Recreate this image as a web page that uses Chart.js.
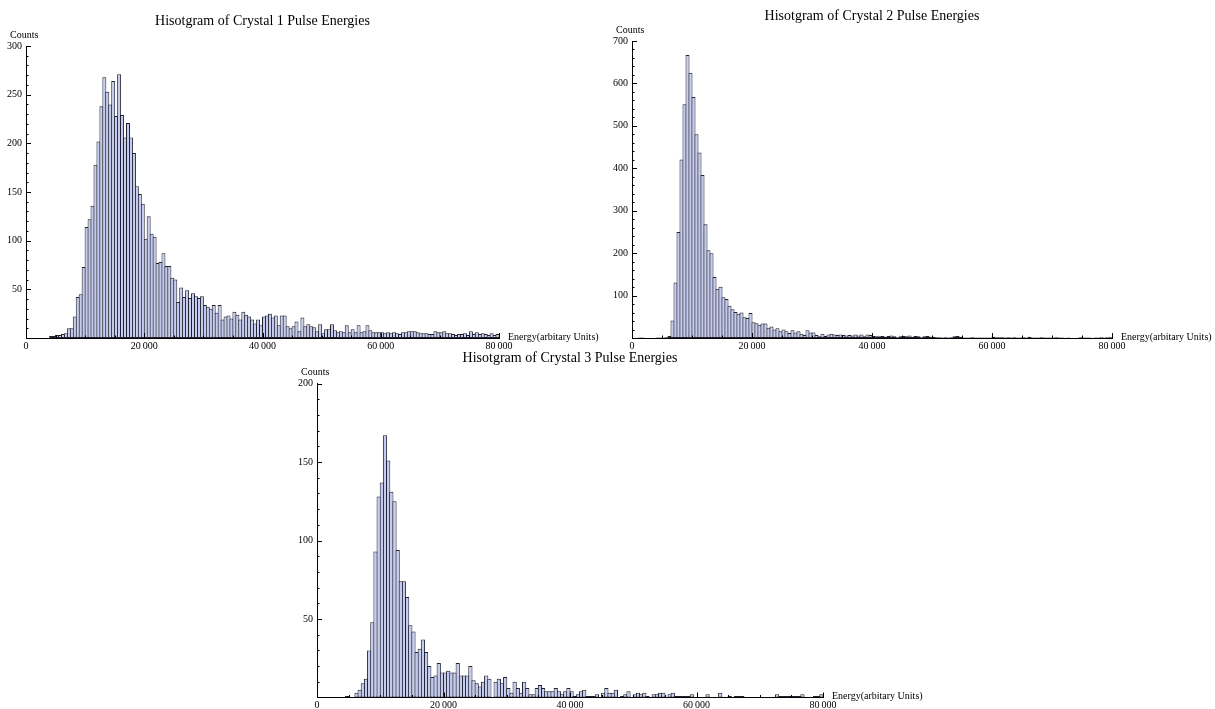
<!DOCTYPE html>
<html>
<head>
<meta charset="utf-8">
<title>Crystal pulse energy histograms</title>
<script src="https://cdn.jsdelivr.net/npm/chart.js@4.4.1/dist/chart.umd.min.js"></script>
<style>
  html, body { margin: 0; padding: 0; background: #fff; }
  body { width: 1215px; height: 709px; position: relative; overflow: hidden; }
  canvas { position: absolute; }
</style>
</head>
<body>
<canvas id="crystal1" width="620" height="360" style="left:0px;top:0px"></canvas>
<canvas id="crystal2" width="610" height="360" style="left:605px;top:0px"></canvas>
<canvas id="crystal3" width="680" height="360" style="left:280px;top:350px"></canvas>
<script>
// histogram bins: 500 energy units wide, 0 .. 80000
const binWidth = 500;
const energyMax = 80000;
const energyStep = 20000;

const crystal1Counts = [
  0, 0, 0, 0, 0, 0, 0, 0, 2, 2, 3, 3, 4, 5, 10, 10, 22, 42, 45, 73,
  114, 122, 136, 178, 202, 238, 268, 253, 240, 264, 228, 271, 229, 206, 221, 206, 190, 156, 148, 138,
  102, 125, 107, 104, 77, 78, 87, 74, 74, 62, 60, 37, 52, 42, 49, 41, 46, 43, 41, 43,
  34, 32, 30, 34, 26, 34, 19, 22, 23, 20, 27, 24, 19, 27, 24, 22, 19, 15, 19, 13,
  22, 23, 25, 21, 23, 13, 23, 23, 12, 10, 12, 17, 7, 21, 12, 14, 12, 11, 7, 14,
  5, 9, 9, 14, 8, 6, 7, 6, 13, 6, 9, 6, 13, 6, 7, 13, 8, 6, 6, 6,
  6, 5, 6, 5, 6, 5, 4, 6, 6, 7, 7, 7, 6, 5, 5, 5, 4, 4, 7, 6,
  6, 7, 5, 5, 4, 3, 4, 4, 5, 3, 7, 4, 6, 4, 5, 4, 3, 5, 3, 4
];

const crystal2Counts = [
  0, 0, 1, 1, 0, 0, 0, 0, 1, 1, 1, 2, 5, 41, 131, 250, 421, 551, 667, 625,
  568, 480, 437, 384, 268, 207, 200, 144, 116, 121, 96, 92, 76, 68, 61, 57, 60, 49, 47, 59,
  37, 35, 31, 34, 34, 24, 27, 20, 23, 16, 20, 16, 12, 18, 13, 16, 10, 7, 18, 13,
  13, 7, 4, 10, 5, 8, 10, 8, 7, 8, 7, 6, 7, 6, 8, 6, 8, 4, 8, 7,
  5, 4, 4, 5, 3, 5, 6, 4, 2, 4, 5, 4, 6, 3, 5, 4, 2, 4, 5, 3,
  3, 2, 2, 1, 2, 1, 2, 4, 5, 3, 1, 1, 1, 2, 1, 1, 1, 1, 1, 1,
  3, 2, 2, 2, 1, 2, 1, 2, 1, 1, 2, 1, 3, 1, 1, 1, 2, 1, 1, 1,
  1, 2, 1, 1, 0, 1, 0, 0, 0, 2, 1, 1, 1, 0, 1, 1, 2, 1, 2, 2
];

const crystal3Counts = [
  0, 0, 0, 0, 0, 0, 0, 0, 0, 1, 0, 0, 3, 5, 9, 12, 30, 48, 93, 128,
  137, 167, 151, 131, 125, 94, 74, 74, 64, 46, 42, 29, 31, 37, 29, 20, 13, 14, 22, 16,
  16, 17, 16, 16, 22, 14, 14, 14, 20, 11, 9, 7, 10, 14, 12, 0, 10, 12, 9, 13,
  6, 3, 10, 6, 3, 10, 6, 2, 2, 6, 8, 6, 4, 4, 4, 6, 4, 2, 4, 6,
  4, 1, 2, 4, 5, 1, 1, 1, 2, 0, 3, 6, 3, 3, 5, 0, 1, 2, 4, 0,
  2, 3, 2, 3, 1, 0, 2, 2, 3, 3, 0, 2, 3, 1, 1, 1, 1, 1, 2, 0,
  0, 0, 0, 2, 0, 0, 0, 3, 0, 0, 1, 0, 1, 1, 1, 0, 0, 0, 0, 0,
  0, 0, 0, 0, 0, 2, 1, 1, 1, 1, 1, 1, 1, 2, 0, 0, 0, 1, 1, 2
];

const titles = [
  'Hisotgram of Crystal 1 Pulse Energies',
  'Hisotgram of Crystal 2 Pulse Energies',
  'Hisotgram of Crystal 3 Pulse Energies'
];
const countsMax = [300, 700, 200];
const countsStep = [50, 100, 50];

Chart.defaults.font.family = '"Liberation Serif", "Times New Roman", serif';
Chart.defaults.color = '#000';

// 20000 -> "20 000" (thin space digit blocks)
function fmt(v) {
  const s = String(v);
  return s.length > 4 ? s.replace(/\B(?=(\d{3})+(?!\d))/g, '\u2009') : s;
}

// inward tick marks, title and axis captions
const axisDecor = {
  id: 'axisDecor',
  afterDatasetsDraw(chart, args, opts) {
    const { ctx, chartArea: a, scales: { x, y } } = chart;
    ctx.save();
    ctx.strokeStyle = '#000';
    ctx.lineWidth = 1;
    ctx.beginPath();
    const xMinor = energyStep / 4;
    for (let k = 0; k * xMinor <= energyMax; k++) {
      const v = k * xMinor;
      const px = Math.round(x.getPixelForValue(v)) + 0.5;
      const len = k % 4 === 0 ? 5 : 2.5;
      ctx.moveTo(px, a.bottom);
      ctx.lineTo(px, a.bottom - len);
    }
    const yMinor = opts.yStep / 5;
    for (let k = 1; k * yMinor <= y.max; k++) {
      const py = Math.round(y.getPixelForValue(k * yMinor)) + 0.5;
      const len = k % 5 === 0 ? 5 : 2.5;
      ctx.moveTo(a.left, py);
      ctx.lineTo(a.left + len, py);
    }
    ctx.stroke();

    ctx.fillStyle = '#000';
    ctx.textBaseline = 'middle';
    ctx.font = '14px "Liberation Serif"';
    ctx.textAlign = 'center';
    ctx.fillText(opts.title, (a.left + a.right) / 2, a.top - 25);
    ctx.font = '10px "Liberation Serif"';
    ctx.textAlign = 'left';
    ctx.fillText('Counts', a.left - 16, a.top - 11);
    ctx.fillText('Energy(arbitary Units)', a.right + 9, a.bottom - 1);
    ctx.restore();
  }
};

function drawHistogram(id, counts, title, yMax, yStep, box) {
  const canvas = document.getElementById(id);
  const points = counts
    .map((c, i) => ({ x: (i + 0.5) * binWidth, y: c }))
    .filter(p => p.y > 0);

  new Chart(canvas, {
    type: 'bar',
    data: {
      datasets: [{
        data: points,
        backgroundColor: '#c4cbf1',
        borderColor: '#22222e',
        borderWidth: 1,
        borderSkipped: false,
        barPercentage: 1.34,
        categoryPercentage: 1
      }]
    },
    options: {
      responsive: false,
      animation: false,
      devicePixelRatio: 1,
      layout: {
        padding: {
          left: 0,
          top: box.top,
          right: canvas.width - box.right,
          bottom: canvas.height - box.bottom - 12
        }
      },
      plugins: {
        legend: { display: false },
        tooltip: { enabled: false },
        axisDecor: { title: title, yStep: yStep }
      },
      scales: {
        x: {
          type: 'linear',
          min: 0,
          max: energyMax,
          offset: false,
          grid: { display: false, drawTicks: false },
          border: { display: true, color: '#000', width: 1 },
          ticks: {
            stepSize: energyStep,
            padding: 2,
            maxRotation: 0,
            autoSkip: false,
            font: { size: 10 },
            callback: v => fmt(v)
          },
          afterFit: s => { s.height = 12; }
        },
        y: {
          min: 0,
          max: yMax,
          grid: { display: false, drawTicks: false },
          border: { display: true, color: '#000', width: 1 },
          ticks: {
            stepSize: yStep,
            padding: 4,
            font: { size: 10 },
            callback: v => (v === 0 ? '' : fmt(v))
          },
          afterFit: s => { s.width = box.left; }
        }
      }
    },
    plugins: [axisDecor]
  });
}

drawHistogram('crystal1', crystal1Counts, titles[0], countsMax[0], countsStep[0],
  { left: 26, top: 46, right: 499, bottom: 338 });
drawHistogram('crystal2', crystal2Counts, titles[1], countsMax[1], countsStep[1],
  { left: 27, top: 41, right: 507, bottom: 338 });
drawHistogram('crystal3', crystal3Counts, titles[2], countsMax[2], countsStep[2],
  { left: 37, top: 33.5, right: 543, bottom: 347.5 });
</script>
</body>
</html>
